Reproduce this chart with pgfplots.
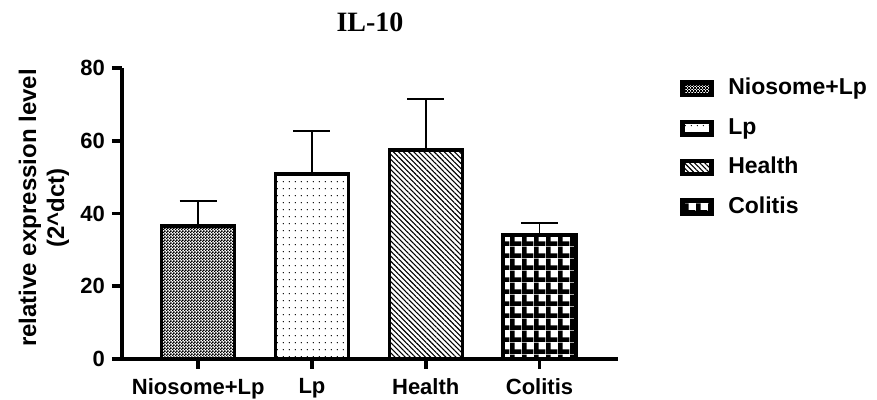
\documentclass[border=0pt]{standalone}
\usepackage{pgfplots}
\pgfplotsset{compat=1.18}
\usepackage{fontspec}
\setmainfont{Liberation Sans}
\newfontfamily\timesfont{Liberation Serif}
\usetikzlibrary{patterns,patterns.meta}

\tikzdeclarepattern{
  name=checker, type=uncolored,
  bottom left={(0pt,0pt)}, top right={(1.6pt,1.6pt)}, tile size={(1.6pt,1.6pt)},
  code={\fill (-0.07pt,-0.07pt) rectangle (0.87pt,0.87pt); \fill (0.73pt,0.73pt) rectangle (1.67pt,1.67pt);}
}
\tikzdeclarepattern{
  name=sparsedots, type=uncolored,
  bottom left={(0pt,0pt)}, top right={(3pt,3.5pt)}, tile size={(3pt,3.5pt)},
  code={\fill (0.75pt,0.75pt) circle (0.38pt);}
}
\tikzdeclarepattern{
  name=bgrid, type=uncolored,
  bottom left={(0pt,0pt)}, top right={(5.8pt,5.8pt)}, tile size={(5.8pt,5.8pt)},
  code={\fill (0pt,0pt) rectangle (5.8pt,2.4pt); \fill (0pt,0pt) rectangle (2.4pt,5.8pt);}
}

\pgfplotsset{
  mybar/.style={ybar, bar width=36.5pt, bar shift=0pt, draw=black, line width=1.7pt, mark=none,
    error bars/y dir=plus, error bars/y explicit,
    error bars/error bar style={line width=0.8pt, black},
    error bars/error mark options={rotate=90, mark size=9.25pt, line width=0.8pt, black}},
  mylegend/.style={legend image code/.code={
    \draw[##1, line width=2.2pt] (0.5pt,-3.2pt) rectangle (15pt,3.2pt);
    \pgfpathmoveto{\pgfpoint{21.3pt}{0pt}}\pgfusepath{discard}}},
}

\begin{document}
\begin{tikzpicture}
\useasboundingbox (-61pt,-20.5pt) rectangle (377.5pt,179.5pt);
\begin{axis}[
  at={(0pt,0pt)}, anchor=south west,
  scale only axis, width=248pt, height=145.5pt,
  xmin=-0.67, xmax=3.69, ymin=0, ymax=80,
  axis x line=bottom, axis y line=left,
  axis line style={line width=1.8pt, -},
  xtick={0,1,2,3},
  xticklabels={Niosome+Lp, Lp, Health, Colitis},
  ytick={0,20,40,60,80},
  tick align=outside, major tick length=5pt,
  tick style={line width=1.8pt, black},
  /pgf/number format/assume math mode=true,
  tick label style={font=\bfseries\fontsize{11}{13}\selectfont},
  xticklabel style={yshift=-1pt},
  ylabel={relative expression level\\(2\^{}dct)},
  ylabel style={align=center, font=\bfseries\fontsize{12}{14}\selectfont,
    at={(axis description cs:0,0.519)}, anchor=center, rotate=0, yshift=39pt},
  legend style={draw=none, fill=none, at={(axis description cs:1.113,0.995)}, anchor=north west,
    font=\bfseries\fontsize{11.5}{13}\selectfont, row sep=4.7pt,
    nodes={text height=8.5pt, text depth=2.5pt}},
  legend cell align=left,
  clip=false,
]
\addplot[mybar, pattern=checker, pattern color=black, mylegend] coordinates {(0,36.6) +- (0,6.8)};
\addlegendentry{Niosome+Lp}
\addplot[mybar, pattern=sparsedots, pattern color=black, mylegend] coordinates {(1,50.9) +- (0,11.7)};
\addlegendentry{Lp}
\addplot[mybar, pattern={Lines[angle=-45, distance=1.8pt, line width=0.55pt]}, pattern color=black, mylegend] coordinates {(2,57.5) +- (0,13.9)};
\addlegendentry{Health}
\addplot[mybar, pattern=bgrid, pattern color=black, mylegend] coordinates {(3,34.1) +- (0,3.3)};
\addlegendentry{Colitis}
\node[font=\timesfont\bfseries\fontsize{14}{16}\selectfont] at (axis description cs:0.5,1) [yshift=23pt] {IL-10};
\end{axis}
\end{tikzpicture}
\end{document}
